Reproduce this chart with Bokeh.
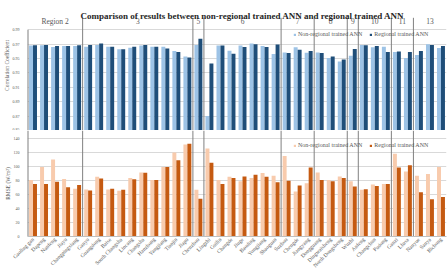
import math
from bokeh.plotting import figure
from bokeh.layouts import column
from bokeh.models import (Range1d, FixedTicker, PrintfTickFormatter, Legend,
                          LegendItem, Label, ColumnDataSource, LinearAxis)
from bokeh.transform import dodge
from bokeh.core.properties import value
from bokeh.embed import file_html
from bokeh.resources import INLINE

# ---- data -----------------------------------------------------------------
stations = [
    "Gaoling gan", "Dapeng", "Nanfeng", "Jiayu", "Changpingxiang",
    "Ganyu", "Guangdong", "Baise", "South Changsha", "Lincang", "Changsha",
    "Hanzhong", "Yangjiang", "Tianjin", "Jiapu",
    "Chenzhou",
    "Lingzhi", "Guilin", "Changde", "Jiuge", "Baoding", "Yongjiang", "Shaoguan",
    "Suzhou", "Chengde", "Jiangyang",
    "Dongguang", "Dingwaisheng", "North Dongsheng",
    "Wuzhi",
    "Anfeng", "Changchun", "Pudong",
    "Ganzi", "Lhasa",
    "Nanyue", "Sanya", "Bichong",
]
region_names = ["Region 2", "3", "5", "6", "7", "8", "9", "10", "11", "13"]
region_sizes = [5, 10, 1, 7, 3, 3, 1, 3, 2, 3]

cc_nonregional = [
    0.968, 0.9685, 0.966, 0.9675, 0.9675,
    0.9665, 0.969, 0.9665, 0.963, 0.965, 0.968, 0.9665, 0.9665, 0.9605, 0.953,
    0.969,
    0.870, 0.968, 0.961, 0.968, 0.971, 0.9675, 0.9563,
    0.9586, 0.9656, 0.9582,
    0.9586, 0.9507, 0.946,
    0.954,
    0.969, 0.9656, 0.9665,
    0.959, 0.9507,
    0.955, 0.970, 0.9647,
]
cc_regional = [
    0.9685, 0.969, 0.9675, 0.9675, 0.9685,
    0.969, 0.971, 0.9665, 0.963, 0.9665, 0.969, 0.9665, 0.964, 0.959, 0.9515,
    0.9775,
    0.943, 0.968, 0.9567, 0.966, 0.970, 0.966, 0.9695,
    0.9577, 0.9623, 0.9605,
    0.9577, 0.953, 0.9487,
    0.9633,
    0.9685, 0.9675, 0.959,
    0.960, 0.959,
    0.9605, 0.969, 0.9675,
]
rmse_nonregional = [
    80.4, 99.0, 109.8, 81.8, 67.9,
    67.0, 85.0, 67.0, 65.0, 83.3, 91.2, 80.5, 99.0, 119.7, 130.9,
    66.5,
    125.3, 80.5, 85.0, 78.6, 83.3, 90.3, 86.5,
    114.5, 64.1, 75.8,
    91.2, 80.5, 85.6,
    78.6,
    66.5, 73.9, 74.8,
    117.8, 92.6,
    86.5, 88.9, 99.0,
]
rmse_regional = [
    74.8, 74.8, 78.0, 70.2, 73.5,
    65.5, 82.8, 67.9, 66.5, 81.4, 90.7, 80.5, 99.0, 108.5, 132.3,
    53.9,
    105.2, 74.8, 83.3, 85.6, 87.9, 85.0, 77.2,
    79.5, 72.5, 98.2,
    80.5, 78.6, 83.3,
    71.1,
    67.4, 72.0, 74.8,
    98.2, 101.5,
    63.2, 53.0, 56.2,
]
cc_ticks = [0.85, 0.87, 0.89, 0.91, 0.93, 0.95, 0.97, 0.99]
rmse_ticks = [0, 20, 40, 60, 80, 100, 120, 140]

# ---- styling ----------------------------------------------------------------
SERIF = "Liberation Serif"
GREY_TXT = "#595959"
GRID = "#d9d9d9"
DIVIDER = "#808080"
LIGHT_BLUE, DARK_BLUE = "#9dc3e6", "#1f4e79"
LIGHT_ORANGE, DARK_ORANGE = "#f8cbad", "#c55a11"
BAR_W = 0.36

n = len(stations)
idx = list(range(n))
src = ColumnDataSource(dict(x=idx, cc_n=cc_nonregional, cc_r=cc_regional,
                            rm_n=rmse_nonregional, rm_r=rmse_regional))

# region boundaries and header positions
starts, s = [], 0
for k in region_sizes:
    starts.append(s)
    s += k
centers = [st + (k - 1) / 2 for st, k in zip(starts, region_sizes)]
bounds = [st - 0.5 for st in starts[1:]]

x_range = Range1d(-0.5, n - 0.5)

# top panel: frame also covers the title/header strip above 0.99
CC_PX = 0.14 / 100.7            # data units per pixel in the top panel
cc_top = 0.99 + 29.3 * CC_PX
hdr_y = 0.99 + 8.8 * CC_PX
line_top = 0.99 + 12.0 * CC_PX

top = figure(width=448, height=130, x_range=x_range,
             y_range=Range1d(0.85, cc_top), output_backend="svg",
             toolbar_location=None, min_border_left=27, min_border_right=2,
             min_border_top=0, min_border_bottom=0)
bot = figure(width=448, height=143, x_range=x_range,
             y_range=Range1d(0, 151), output_backend="svg",
             toolbar_location=None, min_border_left=27, min_border_right=2,
             min_border_top=0, min_border_bottom=35)

for p in (top, bot):
    p.outline_line_color = None
    p.xgrid.visible = False
    p.ygrid.grid_line_color = GRID
    p.ygrid.grid_line_width = 1
    p.yaxis.axis_line_color = None
    p.yaxis.major_tick_line_color = None
    p.yaxis.minor_tick_line_color = None
    p.yaxis.major_tick_out = 0
    p.yaxis.major_tick_in = 0
    p.yaxis.minor_tick_out = 0
    p.yaxis.major_label_text_font = SERIF
    p.yaxis.major_label_text_font_size = "4px"
    p.yaxis.major_label_text_color = GREY_TXT
    p.yaxis.major_label_standoff = 8
    p.background_fill_color = "white"
    p.border_fill_color = "white"

top.xaxis.visible = False
top.yaxis.ticker = FixedTicker(ticks=cc_ticks)
top.ygrid.ticker = FixedTicker(ticks=cc_ticks)
top.yaxis.formatter = PrintfTickFormatter(format="%.2f")
bot.yaxis.ticker = FixedTicker(ticks=rmse_ticks)
bot.ygrid.ticker = FixedTicker(ticks=rmse_ticks[1:])

bot.xaxis.ticker = FixedTicker(ticks=idx)
bot.xaxis.major_label_overrides = {i: name for i, name in enumerate(stations)}
bot.xaxis.major_label_orientation = math.pi / 4
bot.xaxis.major_label_text_font = SERIF
bot.xaxis.major_label_text_font_size = "5.5px"
bot.xaxis.major_label_text_color = GREY_TXT
bot.xaxis.major_label_standoff = 2
bot.xaxis.major_tick_line_color = None
bot.xaxis.minor_tick_line_color = None
bot.xaxis.major_tick_out = 0
bot.xaxis.minor_tick_out = 0
bot.xaxis.axis_line_color = "#bfbfbf"


def title_axis(p, text, span):
    # outer left axis that only carries the axis title, centred on `span`
    ax = LinearAxis(axis_label=text, bounds=span, ticker=FixedTicker(ticks=[]),
                    axis_line_color=None, major_tick_line_color=None,
                    minor_tick_line_color=None, major_tick_out=0, major_tick_in=0,
                    minor_tick_out=0, minor_tick_in=0,
                    major_label_text_font_size="0px",
                    major_label_standoff=0, axis_label_standoff=0,
                    axis_label_text_font=SERIF, axis_label_text_font_size="5.5px",
                    axis_label_text_font_style="normal",
                    axis_label_text_color=GREY_TXT)
    p.add_layout(ax, "left")


title_axis(top, "Correlation Coefficient", (0.85, 0.99))
title_axis(bot, "RMSE (W/m\u00b2)", (0, 117))

# bars
r_cn = top.vbar(x=dodge("x", -BAR_W / 2, range=x_range), top="cc_n", bottom=0.85,
                width=BAR_W, source=src, color=LIGHT_BLUE, line_color=None)
r_cr = top.vbar(x=dodge("x", BAR_W / 2, range=x_range), top="cc_r", bottom=0.85,
                width=BAR_W, source=src, color=DARK_BLUE, line_color=None)
r_rn = bot.vbar(x=dodge("x", -BAR_W / 2, range=x_range), top="rm_n", bottom=0,
                width=BAR_W, source=src, color=LIGHT_ORANGE, line_color=None)
r_rr = bot.vbar(x=dodge("x", BAR_W / 2, range=x_range), top="rm_r", bottom=0,
                width=BAR_W, source=src, color=DARK_ORANGE, line_color=None)

# region dividers and left border
top.segment(x0=bounds, y0=[0.85] * len(bounds), x1=bounds, y1=[line_top] * len(bounds),
            line_color=DIVIDER, line_width=1)
bot.segment(x0=bounds, y0=[0] * len(bounds), x1=bounds, y1=[151] * len(bounds),
            line_color=DIVIDER, line_width=1)
top.segment(x0=[-0.5], y0=[0.85], x1=[-0.5], y1=[0.99], line_color=DIVIDER, line_width=2)
bot.segment(x0=[-0.5], y0=[0], x1=[-0.5], y1=[151], line_color=DIVIDER, line_width=2)

# region headers
top.text(x=centers, y=[hdr_y] * len(centers), text=region_names,
         text_font=value(SERIF), text_font_size="7.5px", text_color=GREY_TXT,
         text_align="center", text_baseline="middle")

# chart title
top.add_layout(Label(x=215, y=115, x_units="screen", y_units="screen",
                     text="Comparison of results between non-regional trained ANN and regional trained ANN",
                     text_font=SERIF, text_font_style="bold", text_font_size="9px",
                     text_color="#262626", text_align="center", text_baseline="middle"))


def add_legend(p, r_light, r_dark, y):
    leg = Legend(items=[LegendItem(label="Non-regional trained ANN", renderers=[r_light]),
                        LegendItem(label="Regional trained ANN", renderers=[r_dark])],
                 orientation="horizontal", location=(266, y),
                 label_text_font=SERIF, label_text_font_size="6px",
                 label_text_color=GREY_TXT, label_height=5, label_standoff=2,
                 glyph_width=3, glyph_height=3, spacing=7, padding=0, margin=0,
                 border_line_color=None, background_fill_alpha=0)
    p.add_layout(leg)


add_legend(top, r_cn, r_cr, 93)
add_legend(bot, r_rn, r_rr, 88)

layout = column(top, bot, spacing=0)
open("out.html", "w").write(file_html(layout, INLINE))
